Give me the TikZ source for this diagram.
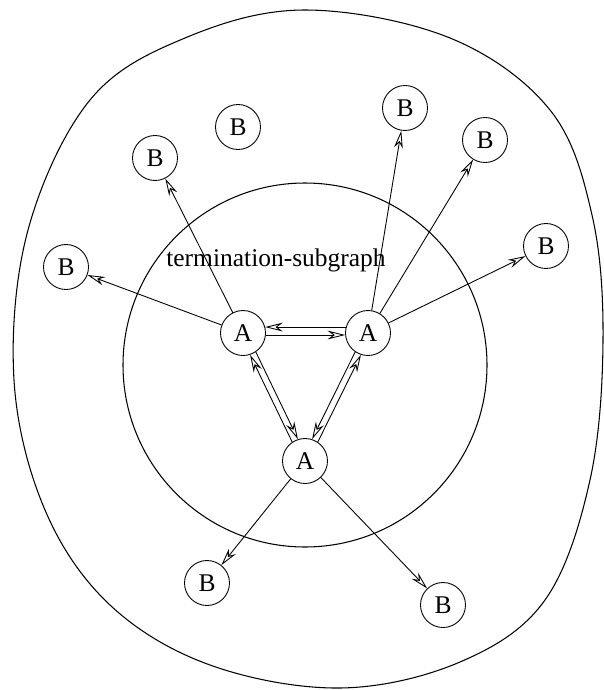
\documentclass[tikz,border=0pt]{standalone}
\usepackage{fontspec}
\setmainfont{Liberation Serif}
\usetikzlibrary{arrows.meta}

\begin{document}
\begin{tikzpicture}[x=0.02cm,y=-0.02cm,line cap=round,line join=round,
  every node/.style={font=\fontsize{14.5}{16}\selectfont},
  knot/.style={draw,circle,line width=0.5pt,minimum size=0.9cm,inner sep=0pt},
  arr/.style={line width=0.5pt,-{Stealth[open,length=10pt,width=5pt]}}]
  \useasboundingbox (0,0) rectangle (604,690);
  % 外圈
  \draw[line width=0.6pt] plot[smooth cycle,tension=0.6] coordinates {
    (305,10) (450,38) (550,110) (592,215) (603,340) (590,480) (545,600)
    (460,662) (340,688) (210,665) (110,605) (45,510) (14,380) (28,230)
    (90,100) (185,38)};
  % 内圈
  \draw[line width=0.6pt] (305,365) circle[radius=182];
  \node at (276,260) {termination-subgraph};
  % 结点
  \node[knot] (A1) at (243,333) {A};
  \node[knot] (A2) at (368,333) {A};
  \node[knot] (A3) at (305,461) {A};
  \foreach \name/\x/\y in {B1/238/127, B2/405/108, B3/485/140, B4/155/158,
    B5/66/267, B6/546/246, B7/207/583, B8/443/605} {
    \node[knot] (\name) at (\x,\y) {B};
  }
  % 向外的边
  \foreach \src/\dst in {A1/B4, A1/B5, A2/B2, A2/B3, A2/B6, A3/B7, A3/B8} {
    \draw[arr] (\src) -- (\dst);
  }
  % 双向边
  \draw[arr] (A2.165) -- (A1.15);
  \draw[arr] (A1.-5) -- (A2.185);
  \draw[arr] (A3.124) -- (A1.-72);
  \draw[arr] (A1.-56) -- (A3.108);
  \draw[arr] (A2.-124) -- (A3.72);
  \draw[arr] (A3.56) -- (A2.-108);
\end{tikzpicture}
\end{document}
